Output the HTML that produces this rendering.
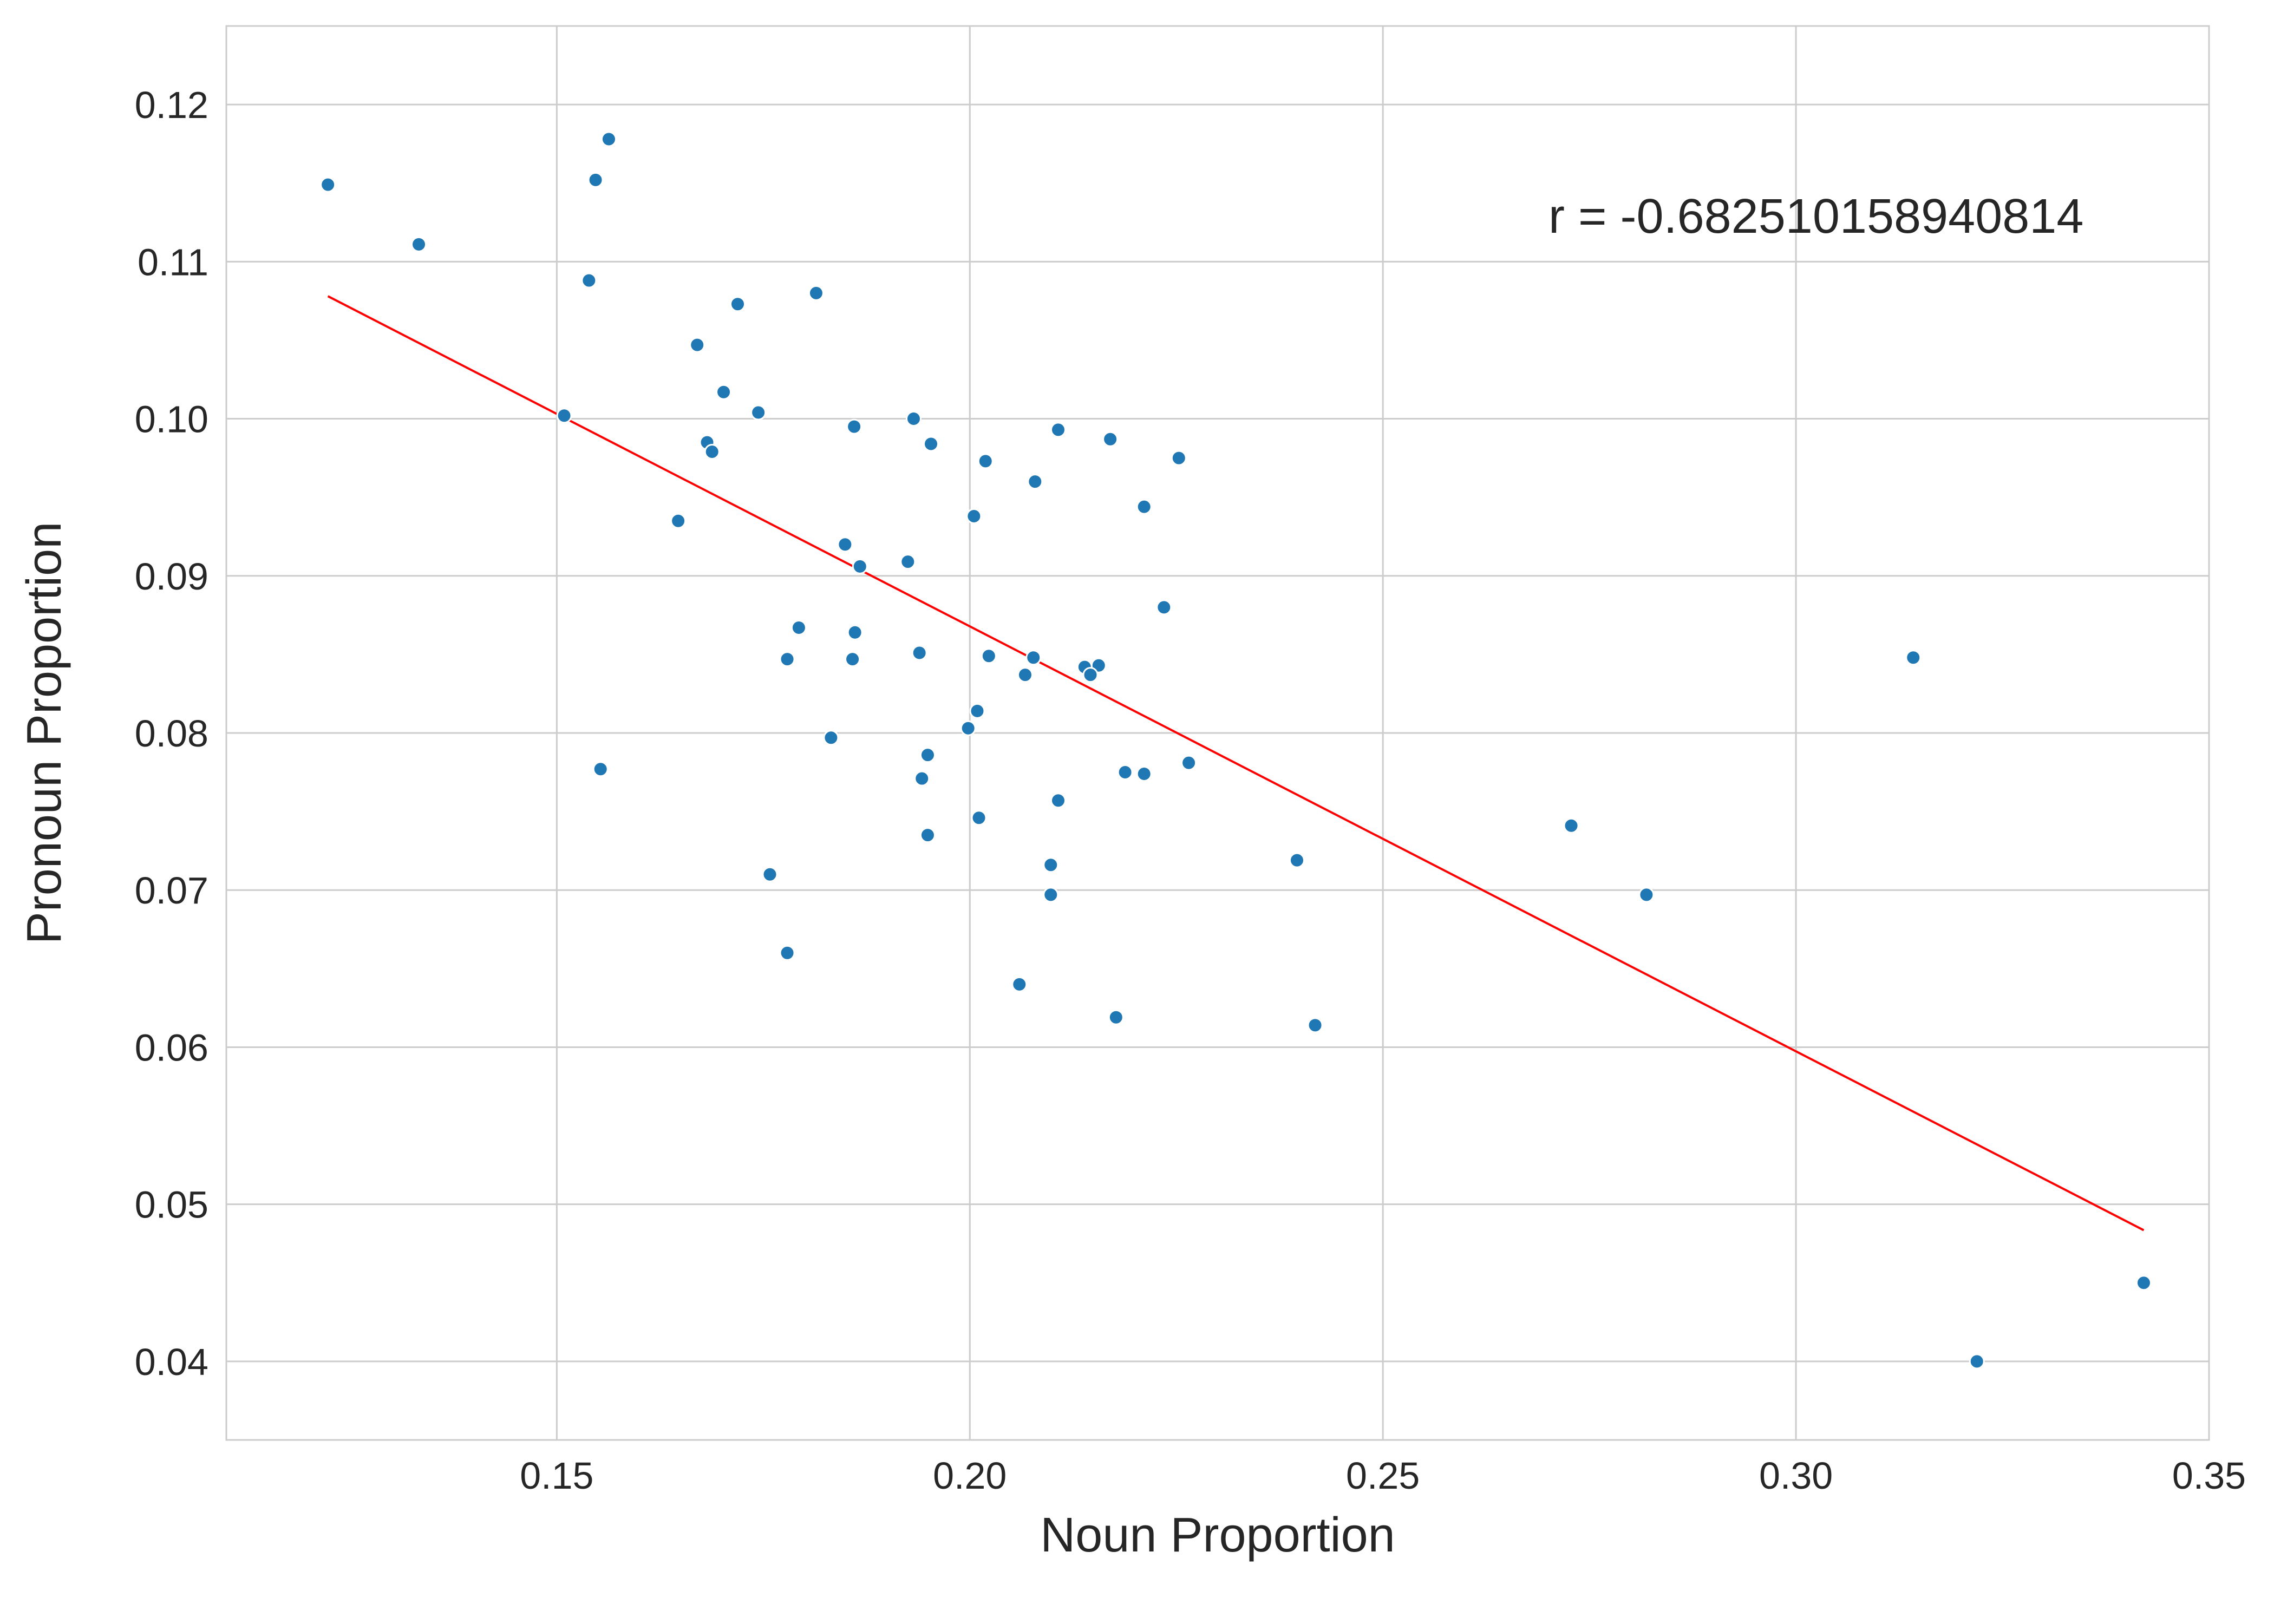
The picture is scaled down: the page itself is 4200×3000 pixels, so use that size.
<!DOCTYPE html>
<html><head><meta charset="utf-8">
<style>html,body{margin:0;padding:0;background:#fff}svg{display:block}text{font-family:"Liberation Sans",Arial,sans-serif;fill:#262626}</style>
</head><body>
<svg id="chart" width="4200" height="3000" viewBox="0 0 4200 3000" xmlns="http://www.w3.org/2000/svg">
<rect width="4200" height="3000" fill="#fff"/>
<g id="grid"></g>
<g id="ticks"></g>
<g id="fit"></g>
<g id="points"></g>
<text x="2860" y="430" font-size="90">r = -0.682510158940814</text>
<text x="2249" y="2866" font-size="90" text-anchor="middle">Noun Proportion</text>
<text transform="translate(112,1354) rotate(-90)" font-size="90" text-anchor="middle">Pronoun Proportion</text>
</svg>
<script>
const nounValues=[0.1223,0.1333,0.1563,0.1547,0.1539,0.1509,0.1719,0.1814,0.1670,0.1702,0.1744,0.1682,0.1688,0.1647,0.1860,0.1932,0.1953,0.2019,0.2107,0.2170,0.2253,0.2079,0.2005,0.2211,0.1849,0.1867,0.1925,0.2235,0.1793,0.1861,0.1779,0.1858,0.1939,0.2023,0.2077,0.2067,0.2139,0.2156,0.2146,0.2009,0.1998,0.1832,0.1553,0.1949,0.1942,0.2188,0.2211,0.2265,0.2107,0.2011,0.1949,0.1758,0.2098,0.2098,0.2396,0.2728,0.2819,0.1779,0.2060,0.2177,0.2418,0.3142,0.3421,0.3219];
const pronounValues=[0.1149,0.1111,0.1178,0.1152,0.1088,0.1002,0.1073,0.1080,0.1047,0.1017,0.1004,0.0985,0.0979,0.0935,0.0995,0.1000,0.0984,0.0973,0.0993,0.0987,0.0975,0.0960,0.0938,0.0944,0.0920,0.0906,0.0909,0.0880,0.0867,0.0864,0.0847,0.0847,0.0851,0.0849,0.0848,0.0837,0.0842,0.0843,0.0837,0.0814,0.0803,0.0797,0.0777,0.0786,0.0771,0.0775,0.0774,0.0781,0.0757,0.0746,0.0735,0.0710,0.0716,0.0697,0.0719,0.0741,0.0697,0.0660,0.0640,0.0619,0.0614,0.0848,0.0450,0.0400];
const xTicks=[0.15,0.20,0.25,0.30,0.35];
const yTicks=[0.04,0.05,0.06,0.07,0.08,0.09,0.10,0.11,0.12];
const NS="http://www.w3.org/2000/svg";
const L=418,R=4080,T=48,B=2660,X0=0.11,X1=0.35,Y0=0.035,Y1=0.125;
const sx=v=>L+(v-X0)/(X1-X0)*(R-L);
const sy=v=>B-(v-Y0)/(Y1-Y0)*(B-T);
function mk(tag,parent,attrs){const e=document.createElementNS(NS,tag);for(const k in attrs)e.setAttribute(k,attrs[k]);document.getElementById(parent).appendChild(e);return e;}
const frame=mk('rect','grid',{x:L,y:T,width:R-L,height:B-T,fill:'none',stroke:'#cccccc','stroke-width':3});


xTicks.forEach(t=>{
  const g=mk('line','grid',{x1:sx(t),x2:sx(t),y1:T,y2:B,stroke:'#cccccc','stroke-width':3});
  
  
  const tx=mk('text','ticks',{x:sx(t),y:2750,'font-size':70,'text-anchor':'middle'});
  tx.textContent=t.toFixed(2);
  
  
});
yTicks.forEach(t=>{
  const g=mk('line','grid',{x1:L,x2:R,y1:sy(t),y2:sy(t),stroke:'#cccccc','stroke-width':3});
  
  
  const tx=mk('text','ticks',{x:385,y:sy(t)+25,'font-size':70,'text-anchor':'end'});
  tx.textContent=t.toFixed(2);
  
  
});
const n=nounValues.length;
let mx=0,my=0;for(let i=0;i<n;i++){mx+=nounValues[i];my+=pronounValues[i];}mx/=n;my/=n;
let sxy=0,sxx=0;for(let i=0;i<n;i++){sxy+=(nounValues[i]-mx)*(pronounValues[i]-my);sxx+=(nounValues[i]-mx)**2;}
const slope=sxy/sxx,icpt=my-slope*mx;
const xa=Math.min(...nounValues),xb=Math.max(...nounValues);
const fl=mk('line','fit',{x1:sx(xa),y1:sy(icpt+slope*xa),x2:sx(xb),y2:sy(icpt+slope*xb),stroke:'#ff0000','stroke-width':4});


for(let i=0;i<n;i++){
  const c=mk('circle','points',{cx:sx(nounValues[i]),cy:sy(pronounValues[i]),r:13,fill:'#1f77b4',stroke:'#ffffff','stroke-width':3});
  
  
}
</script>
</body></html>
